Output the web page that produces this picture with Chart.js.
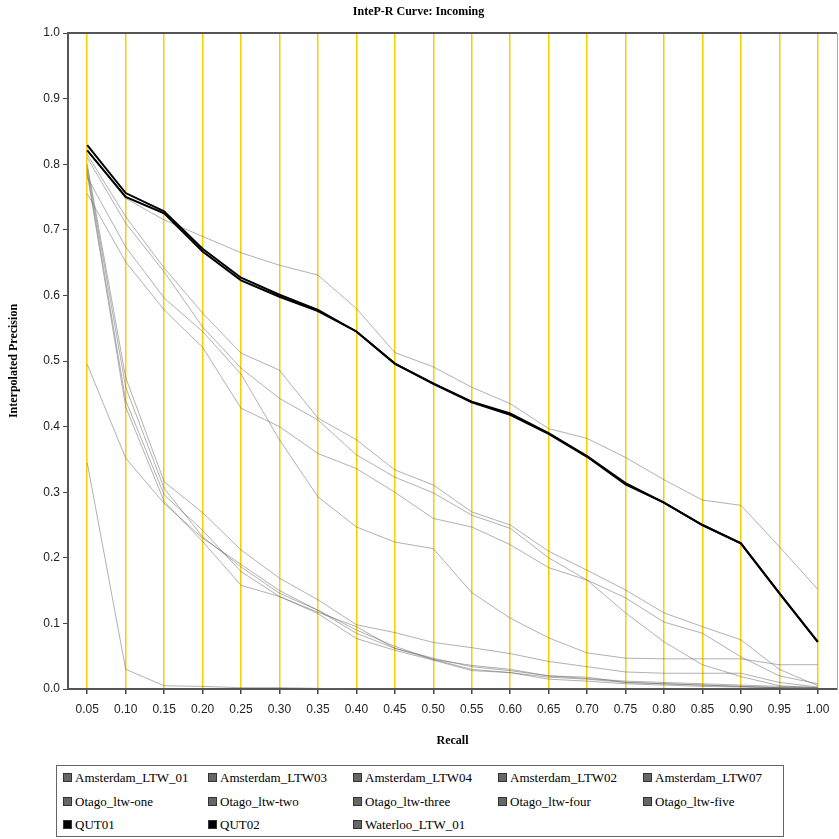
<!DOCTYPE html>
<html>
<head>
<meta charset="utf-8">
<script src="https://cdn.jsdelivr.net/npm/chart.js@4/dist/chart.umd.min.js"></script>
<style>
  body { margin: 0; background: #fff; }
  #wrap { position: relative; width: 839px; height: 839px; }
  #legend {
    position: absolute; left: 56px; top: 765px; width: 728px; height: 72px;
    border: 1px solid #666; box-sizing: border-box;
    font: 13px "Liberation Serif", "Times New Roman", serif; color: #000;
  }
  .item { position: absolute; white-space: nowrap; line-height: 14px; }
  .item span.box {
    display: inline-block; width: 7px; height: 7px; margin-right: 3px;
    border: 1px solid #333; vertical-align: 0px;
  }
</style>
</head>
<body>
<div id="wrap">
  <canvas id="chart" width="839" height="758"></canvas>
  <div id="legend"></div>
</div>
<script>
const recall = ['0.05','0.10','0.15','0.20','0.25','0.30','0.35','0.40','0.45','0.50',
                '0.55','0.60','0.65','0.70','0.75','0.80','0.85','0.90','0.95','1.00'];

const amsterdam01 = [0.815,0.720,0.642,0.573,0.512,0.486,0.413,0.380,0.334,0.311,0.270,0.250,0.210,0.181,0.151,0.116,0.095,0.075,0.030,0.005];
const amsterdam03 = [0.810,0.710,0.636,0.552,0.489,0.443,0.410,0.357,0.323,0.299,0.265,0.245,0.200,0.166,0.139,0.102,0.085,0.049,0.020,0.008];
const amsterdam04 = [0.780,0.674,0.596,0.545,0.480,0.380,0.293,0.247,0.224,0.214,0.147,0.108,0.078,0.055,0.047,0.046,0.046,0.046,0.037,0.037];
const amsterdam02 = [0.755,0.651,0.578,0.521,0.428,0.400,0.359,0.336,0.300,0.260,0.247,0.220,0.185,0.166,0.116,0.072,0.037,0.019,0.005,0.002];
const amsterdam07 = [0.495,0.352,0.283,0.230,0.190,0.150,0.120,0.090,0.065,0.045,0.030,0.025,0.018,0.015,0.010,0.008,0.006,0.004,0.002,0.001];
const otagoOne    = [0.800,0.475,0.316,0.269,0.212,0.169,0.136,0.098,0.086,0.071,0.063,0.054,0.042,0.034,0.026,0.024,0.024,0.024,0.010,0.003];
const otagoTwo    = [0.795,0.460,0.306,0.232,0.186,0.146,0.120,0.085,0.062,0.047,0.034,0.028,0.020,0.016,0.012,0.010,0.008,0.006,0.004,0.002];
const otagoThree  = [0.790,0.440,0.296,0.242,0.179,0.141,0.115,0.077,0.059,0.044,0.028,0.025,0.015,0.012,0.008,0.006,0.004,0.003,0.002,0.001];
const otagoFour   = [0.785,0.430,0.286,0.225,0.158,0.141,0.117,0.095,0.062,0.045,0.036,0.030,0.020,0.018,0.010,0.008,0.006,0.004,0.002,0.001];
const otagoFive   = [0.345,0.030,0.005,0.004,0.002,0.002,0.001,0.000,0.000,0.000,0.000,0.000,0.000,0.000,0.000,0.000,0.000,0.000,0.000,0.000];
const qut01       = [0.829,0.756,0.728,0.671,0.627,0.601,0.578,0.545,0.496,0.466,0.438,0.420,0.390,0.355,0.314,0.284,0.250,0.222,0.146,0.072];
const qut02       = [0.821,0.750,0.725,0.667,0.623,0.598,0.576,0.545,0.496,0.465,0.437,0.418,0.389,0.354,0.312,0.284,0.250,0.222,0.146,0.072];
const waterloo01  = [0.820,0.748,0.715,0.690,0.665,0.646,0.631,0.580,0.513,0.491,0.460,0.435,0.397,0.382,0.353,0.319,0.288,0.280,0.217,0.152];

const runs = [
  ['Amsterdam_LTW_01', amsterdam01, false],
  ['Amsterdam_LTW03', amsterdam03, false],
  ['Amsterdam_LTW04', amsterdam04, false],
  ['Amsterdam_LTW02', amsterdam02, false],
  ['Amsterdam_LTW07', amsterdam07, false],
  ['Otago_ltw-one', otagoOne, false],
  ['Otago_ltw-two', otagoTwo, false],
  ['Otago_ltw-three', otagoThree, false],
  ['Otago_ltw-four', otagoFour, false],
  ['Otago_ltw-five', otagoFive, false],
  ['QUT01', qut01, true],
  ['QUT02', qut02, true],
  ['Waterloo_LTW_01', waterloo01, false]
];

const datasets = runs.map(([name, values, strong]) => ({
  label: name,
  data: values,
  borderColor: strong ? '#000000' : 'rgba(100,100,100,0.5)',
  backgroundColor: strong ? '#000000' : '#666666',
  borderWidth: strong ? 2 : 1,
  pointRadius: 0,
  tension: 0,
  fill: false,
  order: strong ? 0 : 1
}));

// frame on top and right of the plot
const frame = {
  id: 'frame',
  afterDraw(chart) {
    const a = chart.chartArea, c = chart.ctx;
    c.save();
    c.strokeStyle = '#555';
    c.lineWidth = 2;
    c.beginPath();
    c.moveTo(a.left, a.top);
    c.lineTo(a.right, a.top);
    c.stroke();
    c.strokeStyle = '#aaa';
    c.lineWidth = 1;
    c.beginPath();
    c.moveTo(a.right + 0.5, a.top);
    c.lineTo(a.right + 0.5, a.bottom);
    c.stroke();
    c.restore();
  }
};

const tickFont = { family: '"Liberation Sans", Arial, sans-serif', size: 12 };
const boldSerif = { family: '"Liberation Serif", "Times New Roman", serif', size: 12, weight: 'bold' };

new Chart(document.getElementById('chart'), {
  type: 'line',
  data: { labels: recall, datasets: datasets },
  options: {
    responsive: false,
    animation: false,
    layout: { padding: { left: 0, right: 2, top: 0, bottom: 0 } },
    plugins: {
      legend: { display: false },
      tooltip: { enabled: false },
      title: {
        display: true,
        text: 'InteP-R Curve: Incoming',
        color: '#000',
        font: boldSerif,
        padding: { top: 5, bottom: 13.6 }
      }
    },
    scales: {
      x: {
        type: 'category',
        offset: true,
        grid: { color: '#FFCC00', lineWidth: 1.5, tickColor: '#444', tickLength: 5, offset: false },
        border: { display: true, color: '#555', width: 2 },
        ticks: { color: '#222', font: tickFont, padding: 8, maxRotation: 0, autoSkip: false },
        title: { display: true, text: 'Recall', color: '#000', font: boldSerif, padding: { top: 0, bottom: 10 } },
        afterFit(s) { s.height = 69; }
      },
      y: {
        min: 0,
        max: 1,
        grid: { drawOnChartArea: false, tickColor: '#444', tickLength: 5 },
        border: { display: true, color: '#555', width: 2 },
        ticks: { stepSize: 0.1, color: '#222', font: tickFont, padding: 3,
                 callback: v => Number(v).toFixed(1) },
        title: { display: true, text: 'Interpolated Precision', color: '#000', font: boldSerif, padding: { top: 7, bottom: 0 } },
        afterFit(s) { s.width = 68; }
      }
    }
  },
  plugins: [frame]
});

// legend laid out in fixed columns like the original
const legend = document.getElementById('legend');
runs.forEach(([name, values, strong], i) => {
  const el = document.createElement('div');
  el.className = 'item';
  el.style.left = (6 + (i % 5) * 145) + 'px';
  el.style.top = (5 + Math.floor(i / 5) * 23.5) + 'px';
  const box = document.createElement('span');
  box.className = 'box';
  box.style.background = strong ? '#000' : '#666';
  el.appendChild(box);
  el.appendChild(document.createTextNode(name));
  legend.appendChild(el);
});
</script>
</body>
</html>
